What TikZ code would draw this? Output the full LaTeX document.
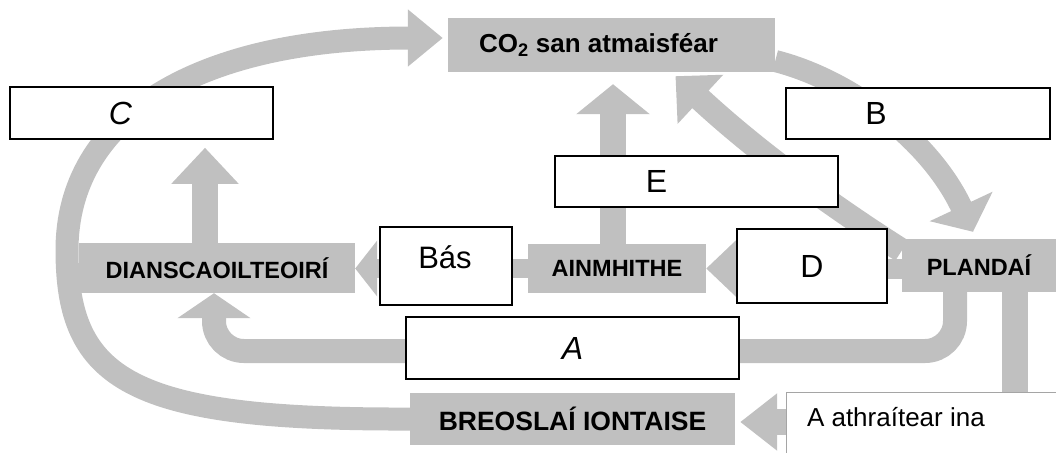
\documentclass[tikz,border=0pt]{standalone}
\usepackage{fontspec}
\setmainfont{Liberation Sans}
\usetikzlibrary{arrows.meta,backgrounds,calc}
\definecolor{boxgray}{RGB}{192,192,192}
\definecolor{edgegray}{RGB}{165,165,165}

\begin{document}
\begin{tikzpicture}[x=1pt,y=-1pt,
        graybox/.style={fill=boxgray,inner sep=0pt,font=\bfseries\fontsize{23.5}{28}\selectfont},
        answerbox/.style={draw,line width=1.5pt,fill=white,inner sep=0pt},
        letter/.style={inner sep=0pt,font=\fontsize{32}{36}\selectfont},
        plaintext/.style={inner sep=0pt,font=\fontsize{26}{30}\selectfont},
        flow/.style={draw=boxgray,line width=#1},
        headtip/.style 2 args={-{Triangle[width=#1,length=#2]}}]

    \useasboundingbox (0,0) rectangle (1056,452);

    % boxes
    \node[graybox,minimum width=327pt,minimum height=54pt] (co2) at (611.5,45) {};
    \node[graybox,font=\bfseries\fontsize{26}{30}\selectfont] (co2txt) at ($(co2)+(-13,0)$) {CO\textsubscript{2} san atmaisféar};
    \node[answerbox,minimum width=263pt,minimum height=52pt] (cbox) at (141.5,113) {};
    \node[answerbox,minimum width=264pt,minimum height=51pt] (bbox) at (918,113.5) {};
    \node[answerbox,minimum width=283pt,minimum height=51pt] (ebox) at (696.5,181.5) {};
    \node[graybox,minimum width=276pt,minimum height=50pt] (dian) at (217,268) {DIANSCAOILTEOIRÍ};
    \node[answerbox,minimum width=132pt,minimum height=78pt] (bas) at (446,266) {};
    \node[graybox,minimum width=178pt,minimum height=49pt] (ainm) at (617,268.5) {AINMHITHE};
    \node[answerbox,minimum width=150pt,minimum height=74pt] (dbox) at (812,266) {};
    \node[graybox,minimum width=154pt,minimum height=53pt] (plan) at (979,265.5) {PLANDAÍ};
    \node[answerbox,minimum width=333pt,minimum height=62pt] (abox) at (572.5,348) {};
    \node[graybox,minimum width=325pt,minimum height=52pt,font=\bfseries\fontsize{26.5}{30}\selectfont] (breo) at (572.5,419) {BREOSLAÍ IONTAISE};
    \node[draw=edgegray,fill=white,inner sep=0pt,minimum width=272pt,minimum height=62pt] (athr) at (922,423) {};

    % letters and texts
    \node[letter] (clab) at ($(cbox)+(-21,0)$) {\itshape C};
    \node[letter] (blab) at ($(bbox)+(-42,0)$) {B};
    \node[letter] (elab) at ($(ebox)+(-40,0)$) {E};
    \node[letter] (dlab) at (dbox) {D};
    \node[letter] (alab) at (abox) {\itshape A};
    \node[plaintext,anchor=base,font=\fontsize{31}{35}\selectfont] (bastxt) at ($(bas)+(-1,2)$) {Bás};
    \node[plaintext,anchor=base west] (athrtxt) at ($(athr.north west)+(21,35)$) {A athraítear ina};

    % grey arrows
    \begin{scope}[on background layer]
        \draw[flow=23pt,headtip={55pt}{35pt}] (breo.west) .. controls (130,420) and (67,380) .. (67,250)
            .. controls (67,120) and (193,38) .. ($(co2.west)+(-5,-7)$);
        \draw[flow=22pt,headtip={68pt}{28pt}] ($(co2.east)+(0,16)$) .. controls (850,80) and (930,140) .. ($(plan.north)+(-6,-7)$);
        \draw[flow=24pt,headtip={65pt}{34pt}] ($(plan.west)+(0,-15)$) .. controls (830,205) and (755,150) .. ($(co2.south)+(64,4)$);
        \draw[flow=26pt,headtip={72pt}{30pt}] ($(ainm.north)+(-4,0)$) -- ($(ainm.north |- co2.south)+(-4,12)$);
        \draw[flow=20pt,headtip={55pt}{30pt}] (plan.west |- ainm.east) -- (ainm.east);
        \draw[flow=19pt,headtip={55pt}{22pt}] (ainm.west) -- (ainm.west -| dian.east);
        \draw[flow=26pt,headtip={65pt}{36pt}] ($(dian.north)+(-12,0)$) -- ($(dian.north |- cbox.south)+(-12,8)$);
        \draw[flow=24pt,headtip={72pt}{25pt},rounded corners=30pt] ($(plan.south)+(-24,0)$)
            |- ($(dian.south |- abox.east)+(-3,3)$) -- ($(dian.south)+(-3,0)$);
        \draw[flow=26pt,headtip={55pt}{37pt}] ($(plan.south)+(36,0)$) |- ($(breo.east)+(5,3)$);
    \end{scope}
\end{tikzpicture}
\end{document}
